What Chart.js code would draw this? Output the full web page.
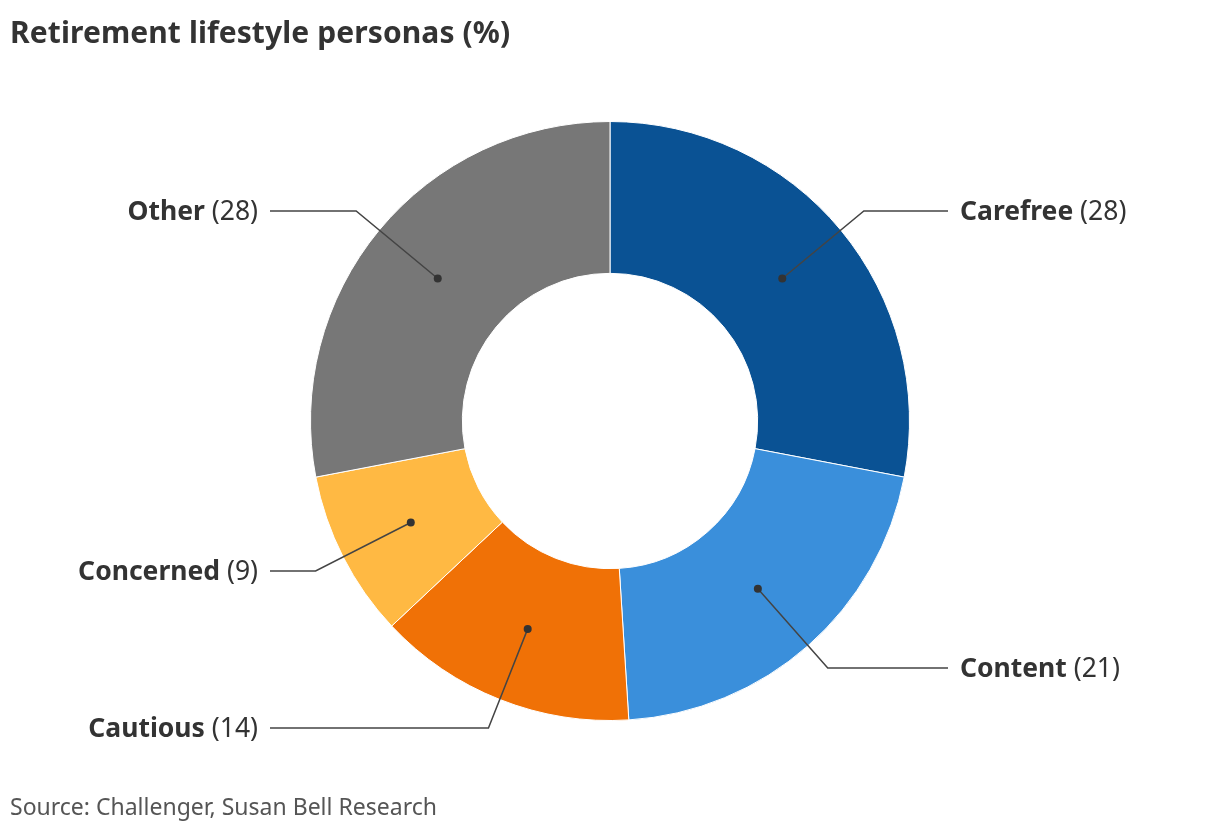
<!DOCTYPE html>
<html>
<head>
<meta charset="utf-8">
<script src="https://cdn.jsdelivr.net/npm/chart.js@4"></script>
<style>
  html, body { margin: 0; padding: 0; background: #fff; }
  body { width: 1220px; height: 834px; position: relative; overflow: hidden; font-family: "Noto Sans", sans-serif; }
  .title { position: absolute; left: 10px; top: 11px; font-size: 30px; font-weight: bold; color: #333; letter-spacing: 0.1px; }
  .source { position: absolute; left: 10px; top: 790px; font-size: 23px; color: #555; }
  .wrap { position: absolute; left: 0; top: 0; width: 1220px; height: 834px; }
</style>
</head>
<body>
<div class="wrap"><canvas id="persona"></canvas></div>
<div class="title">Retirement lifestyle personas (%)</div>
<div class="source">Source: Challenger, Susan Bell Research</div>
<script>
const categories = ["Carefree", "Content", "Cautious", "Concerned", "Other"]
const shares = [28, 21, 14, 9, 28]
const colours = ["#0a5294", "#3a8fdb", "#f07106", "#ffb943", "#777777"]

// where each label sits (y in px) and on which side
const labelY = [211, 668, 728, 571, 211]
const labelSide = ["right", "right", "left", "left", "left"]

const leaderLabels = {
    id: 'leaderLabels',
    afterDatasetsDraw: (chart) => {
        const ctx = chart.ctx
        const meta = chart.getDatasetMeta(0)
        meta.data.forEach((arc, i) => {
            const mid = (arc.startAngle + arc.endAngle) / 2
            const r = (arc.innerRadius + arc.outerRadius) / 2
            const dx = Math.cos(mid), dy = Math.sin(mid)
            const px = arc.x + dx * r, py = arc.y + dy * r
            const ty = labelY[i]
            const ex = px + dx * (ty - py) / dy
            const right = labelSide[i] === 'right'
            const lineEnd = right ? 948 : 270
            ctx.save()
            ctx.strokeStyle = '#444'
            ctx.lineWidth = 1.5
            ctx.beginPath()
            ctx.moveTo(px, py)
            ctx.lineTo(ex, ty)
            ctx.lineTo(lineEnd, ty)
            ctx.stroke()
            ctx.fillStyle = '#333'
            ctx.beginPath()
            ctx.arc(px, py, 4, 0, Math.PI * 2)
            ctx.fill()

            const bold = 'bold 26.5px "Noto Sans"'
            const reg = '26.5px "Noto Sans"'
            const name = categories[i]
            const val = ' (' + shares[i] + ')'
            ctx.textBaseline = 'middle'
            ctx.font = bold
            const wName = ctx.measureText(name).width
            ctx.font = reg
            const wVal = ctx.measureText(val).width
            const x0 = right ? 960 : 258 - wName - wVal
            ctx.textAlign = 'left'
            ctx.font = bold
            ctx.fillText(name, x0, ty + 1)
            ctx.font = reg
            ctx.fillText(val, x0 + wName, ty + 1)
            ctx.restore()
        })
    }
}

new Chart(document.getElementById('persona'), {
    type: 'doughnut',
    data: {
        labels: categories,
        datasets: [{
            data: shares,
            backgroundColor: colours,
            borderColor: '#fff',
            borderWidth: 1
        }]
    },
    options: {
        responsive: true,
        maintainAspectRatio: false,
        animation: false,
        cutout: '49.3%',
        layout: {padding: {top: 121, bottom: 113, left: 0, right: 0}},
        plugins: {
            legend: {display: false},
            tooltip: {enabled: false}
        }
    },
    plugins: [leaderLabels]
})
</script>
</body>
</html>
